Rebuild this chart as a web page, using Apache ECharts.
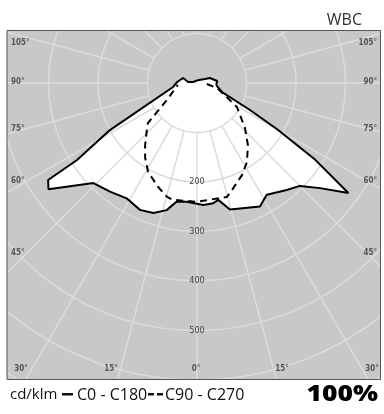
<!DOCTYPE html>
<html lang="en">

<head>
    <meta charset="UTF-8">
    <title>WBC</title>
    <style>
        html, body { margin: 0; padding: 0; background: #fff; }
    </style>
</head>

<body>
    <div id="main" style="width: 384px;height:414px;"></div>
    <script src="https://cdn.jsdelivr.net/npm/echarts@6/dist/echarts.min.js"></script>
    <script>
        // C0 - C180 (solid), angle: right side negative, left side positive, 0 = nadir
        var solidAngles = [-84, -70, -63, -60, -57, -54, -49.5, -45, -40, -32, -27, -14.6, -10.3, -7.7, -3, 5, 9.7, 13.4, 18.6, 24.2, 31.4, 38.7, 46, 54.4, 56.9, 57.3, 61.6, 80.5, 92.9, 109.7, 96.3, 104, -161.6, -116.6, -111, -95.7, -84];
        var solidValues = [39, 54, 120, 187, 285, 378, 327, 294, 282, 266, 280, 264, 240, 245, 247, 241, 243, 264, 277, 281, 273, 281, 291, 369, 359, 288, 200, 49, 40, 30, 18, 8, 6, 18, 28, 41, 39];

        // C90 - C270 (dashed)
        var dashAngles = [-84, -76, -59, -46.8, -39.4, -32.3, -26, -16.7, -14.7, 0, 11.6, 14.7, 20.6, 28.8, 34.7, 40, 46.8, 50.8, 60.5, 84];
        var dashValues = [20, 42, 94, 133, 162, 189, 207, 232, 238, 240, 241, 238, 224, 205, 184, 163, 139, 128, 70, 39];

        var radiusLabels = [200, 300, 400, 500];
        var sideLabels = ['105°', '90°', '75°', '60°', '45°'];
        var bottomLabels = ['30°', '15°', '0°', '15°', '30°'];

        var myChart = echarts.init(document.getElementById('main'));

        var gridColor = '#dbdbdb';
        var smallFont = '8px "DejaVu Sans Condensed", "Liberation Sans Narrow", sans-serif';
        var legendFont = '16px "Open Sans", sans-serif';

        function pairs(angles, values) {
            return angles.map(function (a, i) { return [values[i], a]; });
        }

        var sideY = [43, 82, 129, 181, 253];
        var bottomX = [21, 111, 196, 282, 372];
        var graphics = [
            // masks outside the frame
            { type: 'rect', z: 100, shape: { x: 0, y: 0, width: 384, height: 30 }, style: { fill: '#fff' } },
            { type: 'rect', z: 100, shape: { x: 0, y: 380, width: 384, height: 34 }, style: { fill: '#fff' } },
            { type: 'rect', z: 100, shape: { x: 0, y: 0, width: 7, height: 414 }, style: { fill: '#fff' } },
            { type: 'rect', z: 100, shape: { x: 381, y: 0, width: 3, height: 414 }, style: { fill: '#fff' } },
            { type: 'rect', z: 101, shape: { x: 7, y: 30.5, width: 373.5, height: 349 }, style: { fill: null, stroke: '#555', lineWidth: 1 } },
            { type: 'text', z: 101, x: 362, y: 20, style: { text: 'WBC', font: '16px "Open Sans", sans-serif', fill: '#333', align: 'right', verticalAlign: 'middle' } },
            { type: 'text', z: 101, x: 10, y: 395, style: { text: 'cd/klm', font: '15px "Open Sans", sans-serif', fill: '#111', align: 'left', verticalAlign: 'middle' } },
            { type: 'rect', z: 101, shape: { x: 62, y: 393, width: 11, height: 2.5 }, style: { fill: '#111' } },
            { type: 'text', z: 101, x: 77, y: 395, style: { text: 'C0 - C180', font: legendFont, fill: '#111', align: 'left', verticalAlign: 'middle' } },
            { type: 'rect', z: 101, shape: { x: 148, y: 393, width: 6, height: 2.5 }, style: { fill: '#111' } },
            { type: 'rect', z: 101, shape: { x: 157, y: 393, width: 6, height: 2.5 }, style: { fill: '#111' } },
            { type: 'text', z: 101, x: 165, y: 395, style: { text: 'C90 - C270', font: legendFont, fill: '#111', align: 'left', verticalAlign: 'middle' } },
            { type: 'text', z: 101, x: 378, y: 395, scaleX: 1.2, style: { text: '100%', font: '800 22px "Open Sans", sans-serif', fill: '#000', align: 'right', verticalAlign: 'middle' } }
        ];
        sideLabels.forEach(function (t, i) {
            graphics.push({ type: 'text', z: 50, x: 11, y: sideY[i], style: { text: t, font: 'bold ' + smallFont, fill: '#555', align: 'left', verticalAlign: 'middle' } });
            graphics.push({ type: 'text', z: 50, x: 377, y: sideY[i], style: { text: t, font: 'bold ' + smallFont, fill: '#555', align: 'right', verticalAlign: 'middle' } });
        });
        bottomLabels.forEach(function (t, i) {
            graphics.push({ type: 'text', z: 50, x: bottomX[i], y: 369, style: { text: t, font: 'bold ' + smallFont, fill: '#555', align: 'center', verticalAlign: 'middle' } });
        });

        option = {
            backgroundColor: '#c8c8c8',
            animation: false,
            polar: [
                { center: [197, 83], radius: [49.5, 396] },
                { center: [197, 83], radius: [0, 396] }
            ],
            angleAxis: [{
                polarIndex: 0,
                type: 'value',
                min: 0,
                max: 360,
                interval: 15,
                startAngle: 270,
                clockwise: true,
                z: 1,
                axisLine: { show: false },
                axisTick: { show: false },
                axisLabel: { show: false },
                splitLine: { lineStyle: { color: gridColor, width: 1.5 } }
            }, {
                polarIndex: 1,
                type: 'value',
                min: -180,
                max: 180,
                startAngle: 90,
                clockwise: true,
                show: false
            }],
            radiusAxis: [{
                polarIndex: 0,
                type: 'value',
                min: 100,
                max: 800,
                interval: 100,
                z: 1,
                axisLine: { show: false },
                axisTick: { show: false },
                splitLine: { lineStyle: { color: gridColor, width: 1.5 } },
                axisLabel: {
                    margin: 0,
                    align: 'center',
                    verticalAlign: 'middle',
                    color: '#444',
                    fontSize: 9,
                    fontFamily: '"DejaVu Sans Condensed", "Liberation Sans Narrow", sans-serif',
                    formatter: function (v) {
                        return radiusLabels.indexOf(v) >= 0 ? String(v) : '';
                    }
                }
            }, {
                polarIndex: 1,
                type: 'value',
                min: 0,
                max: 800,
                show: false
            }],
            graphic: graphics,
            series: [{
                type: 'custom',
                coordinateSystem: 'polar',
                polarIndex: 1,
                z: 0,
                silent: true,
                data: [[0, 0]],
                renderItem: function (params, api) {
                    var pts = solidAngles.map(function (a, i) {
                        return api.coord([solidValues[i], a]);
                    });
                    return { type: 'polygon', shape: { points: pts }, style: { fill: '#fff' } };
                }
            }, {
                name: 'C0 - C180',
                type: 'line',
                coordinateSystem: 'polar',
                polarIndex: 1,
                z: 3,
                symbol: 'none',
                data: pairs(solidAngles, solidValues),
                lineStyle: { color: '#000', width: 2 }
            }, {
                name: 'C90 - C270',
                type: 'line',
                coordinateSystem: 'polar',
                polarIndex: 1,
                z: 3,
                symbol: 'none',
                data: pairs(dashAngles, dashValues),
                lineStyle: { color: '#000', width: 2, type: [7, 5] }
            }]
        };
        myChart.setOption(option);
    </script>
</body>

</html>
